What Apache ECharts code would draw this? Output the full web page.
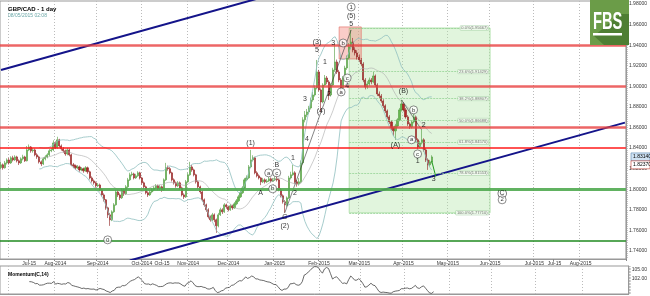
<!DOCTYPE html>
<html><head><meta charset="utf-8">
<script src="https://cdn.jsdelivr.net/npm/echarts@6.0.0/dist/echarts.min.js"></script>
<style>html,body{margin:0;padding:0;background:#fff}#c{width:650px;height:296px}</style>
</head><body><div id="c"></div><script>
// ---------- data ----------
const firstOpen = 1.8210;
const closes = [
1.8237,1.8208,1.8256,1.8285,1.8256,1.8305,1.8285,1.8314,1.8276,1.8256,
1.8295,1.8314,1.8276,1.8382,1.8411,1.8373,1.8382,1.8334,1.8314,1.8266,
1.8246,1.8295,1.8314,1.8334,1.8373,1.8382,1.8450,1.8402,1.8480,1.8421,
1.8392,1.8373,1.8343,1.8382,1.8334,1.8237,1.8227,1.8208,1.8217,1.8188,
1.8198,1.8179,1.8208,1.8169,1.8110,1.8081,1.8062,1.8033,1.8042,1.7994,
1.7945,1.7897,1.7819,1.7751,1.7703,1.7780,1.7848,1.7974,1.7945,1.7916,
1.7994,1.7955,1.8023,1.8091,1.8140,1.8149,1.8110,1.8130,1.8159,1.8110,
1.8062,1.8023,1.7965,1.7945,1.7974,1.7994,1.8013,1.8033,1.8004,1.8023,
1.7994,1.8091,1.8208,1.8200,1.8159,1.8091,1.8062,1.8033,1.8062,1.8013,
1.7945,1.7926,1.8072,1.8140,1.8217,1.8188,1.8140,1.8072,1.8023,1.7974,
1.7897,1.7848,1.7800,1.7732,1.7703,1.7751,1.7703,1.7644,1.7751,1.7800,
1.7780,1.7848,1.7829,1.7800,1.7839,1.7819,1.7858,1.7887,1.7926,1.7965,
1.8013,1.8091,1.8110,1.8217,1.8285,1.8305,1.8159,1.8130,1.8110,1.8072,
1.8091,1.8072,1.8081,1.8101,1.8081,1.8091,1.8101,1.8091,1.7994,1.7936,
1.7878,1.7848,1.7916,1.8110,1.8140,1.8159,1.8072,1.8052,1.8072,1.8256,
1.8674,1.8722,1.8751,1.8790,1.8868,1.8916,1.8984,1.9140,1.8965,1.8848,
1.9013,1.9081,1.9043,1.8916,1.9013,1.9159,1.9237,1.9140,1.9062,1.8984,
1.9081,1.9178,1.9276,1.9383,1.9431,1.9353,1.9324,1.9285,1.9256,1.9217,
1.9062,1.8994,1.9023,1.9062,1.9043,1.9101,1.9013,1.8926,1.8907,1.8858,
1.8810,1.8761,1.8703,1.8654,1.8596,1.8567,1.8615,1.8674,1.8771,1.8829,
1.8771,1.8703,1.8635,1.8606,1.8654,1.8703,1.8480,1.8411,1.8450,1.8480,
1.8382,1.8285,1.8237,1.8266,1.8314];
const highs = [
1.8265,1.8250,1.8275,1.8300,1.8305,1.8320,1.8325,1.8330,1.8325,1.8290,
1.8310,1.8335,1.8325,1.8420,1.8435,1.8420,1.8400,1.8395,1.8350,1.8325,
1.8280,1.8310,1.8330,1.8350,1.8390,1.8400,1.8475,1.8465,1.8510,1.8490,
1.8435,1.8410,1.8385,1.8400,1.8395,1.8345,1.8255,1.8240,1.8235,1.8230,
1.8215,1.8210,1.8225,1.8220,1.8180,1.8125,1.8095,1.8075,1.8060,1.8055,
1.8005,1.7960,1.7905,1.7830,1.7770,1.7795,1.7865,1.7995,1.7990,1.7960,
1.8010,1.8005,1.8040,1.8110,1.8160,1.8170,1.8160,1.8150,1.8175,1.8170,
1.8120,1.8075,1.8035,1.7980,1.7990,1.8010,1.8030,1.8050,1.8045,1.8040,
1.8035,1.8105,1.8256,1.8230,1.8215,1.8170,1.8105,1.8075,1.8080,1.8075,
1.8025,1.7960,1.8090,1.8160,1.8266,1.8235,1.8200,1.8150,1.8085,1.8035,
1.7985,1.7910,1.7860,1.7815,1.7745,1.7770,1.7765,1.7715,1.7770,1.7820,
1.7815,1.7865,1.7860,1.7840,1.7855,1.7850,1.7875,1.7905,1.7945,1.7985,
1.8030,1.8110,1.8135,1.8235,1.8382,1.8330,1.8315,1.8175,1.8145,1.8120,
1.8110,1.8105,1.8100,1.8120,1.8115,1.8110,1.8125,1.8140,1.8105,1.8010,
1.7950,1.7895,1.7930,1.8130,1.8170,1.8237,1.8175,1.8090,1.8110,1.8280,
1.8700,1.8760,1.8780,1.8810,1.8890,1.8945,1.9010,1.9256,1.9160,1.8980,
1.9030,1.9110,1.9100,1.9060,1.9030,1.9180,1.9411,1.9260,1.9160,1.9080,
1.9100,1.9200,1.9300,1.9420,1.9548,1.9470,1.9380,1.9350,1.9310,1.9275,
1.9235,1.9080,1.9050,1.9085,1.9080,1.9140,1.9115,1.9030,1.8950,1.8925,
1.8875,1.8825,1.8775,1.8720,1.8670,1.8610,1.8635,1.8690,1.8790,1.8868,
1.8845,1.8790,1.8720,1.8650,1.8670,1.8742,1.8715,1.8495,1.8470,1.8577,
1.8495,1.8400,1.8300,1.8285,1.8330];
const lows = [
1.8195,1.8190,1.8200,1.8240,1.8240,1.8245,1.8270,1.8275,1.8260,1.8235,
1.8245,1.8280,1.8265,1.8270,1.8370,1.8355,1.8355,1.8320,1.8295,1.8250,
1.8225,1.8235,1.8280,1.8300,1.8320,1.8360,1.8370,1.8390,1.8395,1.8405,
1.8375,1.8355,1.8325,1.8330,1.8320,1.8225,1.8205,1.8190,1.8195,1.8170,
1.8175,1.8160,1.8170,1.8150,1.8095,1.8065,1.8045,1.8015,1.8020,1.7980,
1.7930,1.7880,1.7800,1.7720,1.7644,1.7690,1.7770,1.7840,1.7925,1.7895,
1.7905,1.7935,1.7945,1.8010,1.8080,1.8125,1.8095,1.8100,1.8120,1.8095,
1.8045,1.8005,1.7950,1.7925,1.7935,1.7960,1.7980,1.8000,1.7990,1.7990,
1.7975,1.7985,1.8080,1.8180,1.8145,1.8075,1.8045,1.8015,1.8020,1.7995,
1.7930,1.7905,1.7915,1.8060,1.8130,1.8170,1.8125,1.8055,1.8005,1.7955,
1.7880,1.7830,1.7780,1.7715,1.7685,1.7690,1.7680,1.7576,1.7630,1.7740,
1.7760,1.7770,1.7810,1.7785,1.7790,1.7800,1.7810,1.7845,1.7875,1.7915,
1.7955,1.8000,1.8080,1.8100,1.8205,1.8270,1.8145,1.8115,1.8095,1.8040,
1.8060,1.8055,1.8060,1.8070,1.8065,1.8070,1.8080,1.8075,1.7980,1.7920,
1.7860,1.7771,1.7830,1.7905,1.8095,1.8130,1.8055,1.8025,1.8035,1.8060,
1.8240,1.8650,1.8700,1.8730,1.8775,1.8850,1.8900,1.8970,1.8950,1.8751,
1.8835,1.9000,1.9020,1.8868,1.8900,1.9000,1.9140,1.9120,1.9040,1.8926,
1.8970,1.9060,1.9160,1.9260,1.9360,1.9330,1.9300,1.9260,1.9235,1.9195,
1.9040,1.8970,1.8975,1.9005,1.9020,1.9030,1.8995,1.8905,1.8885,1.8840,
1.8790,1.8740,1.8685,1.8635,1.8575,1.8520,1.8480,1.8600,1.8660,1.8755,
1.8755,1.8685,1.8615,1.8585,1.8590,1.8640,1.8460,1.8390,1.8400,1.8435,
1.8365,1.8265,1.8188,1.8220,1.8250];

// horizontal levels
const redLevels = [1.9401, 1.8984, 1.8585];
const redThinLevels = [1.8400];
const greenLevels = [1.8021];
const darkGreenLevels = [1.7545];
// fibonacci retracement
const fibHigh = 1.95667, fibLow = 1.77710;
const fibRatios = [0, 0.236, 0.382, 0.5, 0.618, 0.786, 1];
const fibStartIdx = 173, fibEndIdx = 243;
// highlighted top zone
const topZone = {from: 168, to: 179, hi: 1.9577, lo: 1.9266};
// trend channel (index, price)
const channelUpper = [[0, 1.9158], [150, 1.9975]];
const channelLower = [[64, 1.7307], [310, 1.8647]];
// wave structure lines
const waveLine1 = [[141, 1.7771], [159, 1.8751], [174, 1.9548]];
const waveLine2 = [[199, 1.8868], [209, 1.8577]];
const arrowLine = [[214, 1.8275], [216, 1.8125]];
// Elliott wave labels: [index, price, text, circled]
const waveLabels = [
 [53,1.7508,'0',true],[124,1.8450,'(1)',false],[129,1.7965,'A',false],
 [133,1.8159,'a',true],[135,1.8004,'b',true],[137,1.8237,'B',false],[137,1.8159,'c',true],
 [141,1.7732,'C',false],[141,1.7644,'(2)',false],[145,1.8305,'1',false],[146,1.7965,'2',false],
 [151,1.8877,'3',false],[152,1.8489,'4',false],[159,1.8761,'(4)',false],
 [157,1.9431,'(3)',false],[157,1.9353,'5',false],[161,1.9237,'1',false],[163,1.8926,'2',false],
 [165,1.9421,'3',false],[169,1.8945,'a',true],[170,1.9421,'b',true],[172,1.9081,'c',true],
 [172,1.9003,'4',false],[174,1.9606,'5',false],[174,1.9683,'(5)',false],[174,1.9771,'1',true],
 [196,1.8431,'(A)',false],[200,1.8955,'(B)',false],[204,1.8480,'a',true],[205,1.8771,'b',true],
 [207,1.8343,'c',true],[207,1.8276,'1',false],[210,1.8625,'2',false],[215,1.8101,'3',false],
 [249,1.7965,'(C)',false],[249,1.7897,'2',true]
];
// axis ticks
const priceTicks = [1.74,1.76,1.78,1.80,1.82,1.84,1.86,1.88,1.90,1.92,1.94,1.96,1.98];
const momTicks = [102, 105];
const dateTicks = [["2014-07-15","Jul-15"],["2014-08-01","Aug-2014"],["2014-09-01","Sep-2014"],
 ["2014-10-01","Oct-2014"],["2014-10-15","Oct-15"],["2014-11-03","Nov-2014"],["2014-12-01","Dec-2014"],
 ["2015-01-01","Jan-2015"],["2015-02-02","Feb-2015"],["2015-03-02","Mar-2015"],["2015-04-01","Apr-2015"],
 ["2015-05-01","May-2015"],["2015-06-01","Jun-2015"],["2015-07-01","Jul-2015"],["2015-07-15","Jul-15"],
 ["2015-08-03","Aug-2015"]];
const gridDates = ["2014-07-01","2014-08-01","2014-09-01","2014-10-01","2014-11-03","2014-12-01",
 "2015-01-01","2015-02-02","2015-03-02","2015-04-01","2015-05-01","2015-06-01","2015-07-01","2015-08-03"];

// ---------- build ----------
const dates = [];
{ let d = new Date(Date.UTC(2014,5,25));
  while (dates.length < 311) { const w = d.getUTCDay();
    if (w !== 0 && w !== 6) dates.push(d.toISOString().slice(0,10));
    d.setUTCDate(d.getUTCDate()+1); } }
const labelMap = new Map(dateTicks);
const gridSet = new Set(gridDates);

const candles = closes.map((c,i) => [i === 0 ? firstOpen : closes[i-1], c, lows[i], highs[i]]);
// Bollinger (20, 2)
const bbU = [], bbM = [], bbL = [];
closes.forEach((c,i) => {
  if (i < 19) { bbU.push(null); bbM.push(null); bbL.push(null); return; }
  const w = closes.slice(i-19, i+1);
  const m = w.reduce((a,b)=>a+b,0)/20;
  const sd = Math.sqrt(w.reduce((a,b)=>a+(b-m)*(b-m),0)/20);
  bbU.push(m+2*sd); bbM.push(m); bbL.push(m-2*sd);
});
// Momentum(14)
const mom = closes.map((c,i) => i < 14 ? null : c/closes[i-14]*100);

const fine = []; for (let k = 1734; k <= 1982; k += 2) fine.push(k/1000);
const fineMom = []; for (let k = 97; k <= 106; k += 0.5) fineMom.push(k);

const fibLevels = fibRatios.map(r => fibHigh - (fibHigh - fibLow)*r);
const FONT = '"Liberation Sans", Arial, sans-serif';

const markLineData = [];
redLevels.forEach(p => markLineData.push({yAxis:p, lineStyle:{color:'rgba(232,64,64,0.8)', width:2.5, type:'solid'}}));
redThinLevels.forEach(p => markLineData.push({yAxis:p, lineStyle:{color:'#ff1a1a', width:1.5, type:'solid'}}));
greenLevels.forEach(p => markLineData.push({yAxis:p, lineStyle:{color:'rgba(80,170,80,0.9)', width:3, type:'solid'}}));
darkGreenLevels.forEach(p => markLineData.push({yAxis:p, lineStyle:{color:'#1f8a1f', width:1.5, type:'solid'}}));
fibLevels.forEach(p => markLineData.push([{coord:[fibStartIdx,p], lineStyle:{color:'#8ccf8c', width:0.7, type:[2,1]}},{coord:[fibEndIdx,p]}]));

const xBase = (gi, showLabel) => ({
  type:'category', gridIndex:gi, data:dates, boundaryGap:true,
  axisLine:{show:true, lineStyle:{color:'#999', width:1}},
  axisTick:{show:showLabel, interval:(i,v)=>labelMap.has(v), length:2, lineStyle:{color:'#888'}},
  axisLabel:{show:showLabel, interval:(i,v)=>labelMap.has(v), formatter:v=>labelMap.get(v)||'',
    fontSize:5, color:'#333', margin:2, fontFamily:FONT},
  splitLine:{show:true, interval:(i,v)=>gridSet.has(v), lineStyle:{color:'#bbb', width:1, type:[1,2]}}
});

const option = {
  animation:false, backgroundColor:'#fff',
  title:[
    {text:'GBP/CAD - 1 day', left:3, top:1, textStyle:{fontSize:6, fontWeight:'bold', color:'#000', fontFamily:FONT},
     subtext:'08/05/2015 02:08', subtextStyle:{fontSize:5, color:'#6aa7a7', fontFamily:FONT}, itemGap:1},
    {text:'Momentum(C,14)', left:3, top:267, textStyle:{fontSize:5, fontWeight:'bold', color:'#000', fontFamily:FONT}}
  ],
  grid:[
    {left:0, right:19, top:1, height:258, show:true, borderColor:'#999', borderWidth:1},
    {left:0, right:19, top:266, height:28, show:true, borderColor:'#999', borderWidth:1}
  ],
  xAxis:[xBase(0,true), xBase(1,false)],
  yAxis:[
    {type:'value', gridIndex:0, position:'right', min:1.7322, max:1.9829, splitLine:{show:false},
     axisLine:{show:true, lineStyle:{color:'#999'}},
     axisTick:{show:true, customValues:fine, length:2, lineStyle:{color:'#999', width:0.6}},
     axisLabel:{customValues:priceTicks, formatter:v=>v.toFixed(5), fontSize:5, color:'#333', margin:3, fontFamily:FONT}},
    {type:'value', gridIndex:1, position:'right', min:96.8, max:106.2, splitLine:{show:false},
     axisLine:{show:true, lineStyle:{color:'#999'}},
     axisTick:{show:true, customValues:fineMom, length:2, lineStyle:{color:'#999', width:0.6}},
     axisLabel:{customValues:momTicks, formatter:v=>v.toFixed(2), fontSize:5, color:'#333', margin:3, fontFamily:FONT}}
  ],
  series:[
    {type:'line', name:'bbU', xAxisIndex:0, yAxisIndex:0, data:bbU, showSymbol:false, silent:true,
     lineStyle:{color:'#8fbfbf', width:0.8}},
    {type:'line', name:'bbM', xAxisIndex:0, yAxisIndex:0, data:bbM, showSymbol:false, silent:true,
     lineStyle:{color:'#a9a9a9', width:0.6}},
    {type:'line', name:'bbL', xAxisIndex:0, yAxisIndex:0, data:bbL, showSymbol:false, silent:true,
     lineStyle:{color:'#8fbfbf', width:0.8}},
    {type:'candlestick', name:'GBPCAD', xAxisIndex:0, yAxisIndex:0, data:candles, barWidth:1.6,
     itemStyle:{color:'#66b84f', color0:'#b22a2a', borderColor:'#4f9a3c', borderColor0:'#8e1f1f', borderWidth:0.6},
     markArea:{silent:true, data:[
       [{coord:[fibStartIdx, fibHigh], itemStyle:{color:'rgba(175,228,165,0.38)', borderColor:'#a6dca0', borderWidth:0.8}},
        {coord:[fibEndIdx, fibLow]}],
       [{coord:[topZone.from, topZone.hi], itemStyle:{color:'rgba(242,120,110,0.38)', borderColor:'rgba(225,110,100,0.8)', borderWidth:0.8}},
        {coord:[topZone.to, topZone.lo]}]
     ]},
     markLine:{silent:true, symbol:['none','none'], label:{show:false}, data:markLineData}
    },
    {type:'line', name:'chU', data:channelUpper, showSymbol:false, silent:true, clip:true,
     lineStyle:{color:'#14148a', width:2}},
    {type:'line', name:'chL', data:channelLower, showSymbol:false, silent:true, clip:true,
     lineStyle:{color:'#14148a', width:2}},
    {type:'line', name:'w1', data:waveLine1, showSymbol:false, silent:true, lineStyle:{color:'#333', width:0.6}},
    {type:'line', name:'w2', data:waveLine2, showSymbol:false, silent:true, lineStyle:{color:'#333', width:0.6}},
    {type:'line', name:'arrow', data:arrowLine, symbol:['none','arrow'], symbolSize:4, showSymbol:true, silent:true,
     itemStyle:{color:'#1f9a1f'}, lineStyle:{color:'#1f9a1f', width:1}},
    {type:'scatter', name:'fibLabels', silent:true, z:6,
     data:fibLevels.map((p,k)=>({value:[fibEndIdx,p],
       label:{show:true, position:'left', distance:1,
         formatter:(fibRatios[k]*100).toFixed(1)+'%('+p.toFixed(5)+')'}})),
     symbolSize:1, itemStyle:{color:'rgba(0,0,0,0)'},
     label:{fontSize:4, color:'#555', fontFamily:FONT, backgroundColor:'#f6fcf4', borderColor:'#9ccc9c', borderWidth:0.5, padding:[0,1]}},
    {type:'scatter', name:'waves', silent:true, z:7,
     data:waveLabels.map(w=>({value:[w[0],w[1]],
       symbolSize: w[3] ? 8 : 1,
       itemStyle: w[3] ? {color:'#fff', borderColor:'#333', borderWidth:0.7} : {color:'rgba(0,0,0,0)'},
       label:{show:true, position:'inside', formatter:w[2], fontSize: w[3] ? 6 : 7, color:'#000', fontFamily:FONT}}))},
    {type:'line', name:'mom', xAxisIndex:1, yAxisIndex:1, data:mom, showSymbol:false, silent:true,
     lineStyle:{color:'#444', width:0.8}}
  ],
  graphic:[
    {type:'rect', shape:{x:590, y:0, width:39, height:45}, style:{fill:'#6b9c48'}, z:100},
    {type:'polygon', shape:{points:[[594,36],[620,14],[629,14],[629,45],[604,45]]}, style:{fill:'#4e7e33'}, z:101},
    {type:'text', x:593, y:11, scaleX:0.64, style:{text:'FBS', fill:'#fff', font:'bold 23px "Liberation Sans", Arial', verticalAlign:'top'}, z:102},
    {type:'rect', shape:{x:593, y:33, width:29, height:2.5}, style:{fill:'#fff'}, z:102}
  ]
};

const chart = echarts.init(document.getElementById('c'), null, {renderer:'canvas'});
chart.setOption(option);

const lastClose = closes[closes.length-1];
const prevClose = closes[closes.length-3];
const y1 = chart.convertToPixel({yAxisIndex:0}, lastClose);
const y2 = chart.convertToPixel({yAxisIndex:0}, prevClose);
chart.setOption({graphic: option.graphic.concat([
  {type:'rect', shape:{x:631, y:y1-4, width:19, height:8}, style:{fill:'#cfe2f3', stroke:'#5b86b0', lineWidth:0.6}, z:110},
  {type:'text', x:633, y:y1, style:{text:lastClose.toFixed(5), fill:'#000', font:'5px "Liberation Sans", Arial', verticalAlign:'middle'}, z:111},
  {type:'rect', shape:{x:631, y:y2-4, width:19, height:8}, style:{fill:'#fff', stroke:'#c0392b', lineWidth:0.6}, z:110},
  {type:'text', x:633, y:y2, style:{text:prevClose.toFixed(5), fill:'#000', font:'5px "Liberation Sans", Arial', verticalAlign:'middle'}, z:111}
])});
</script></body></html>
